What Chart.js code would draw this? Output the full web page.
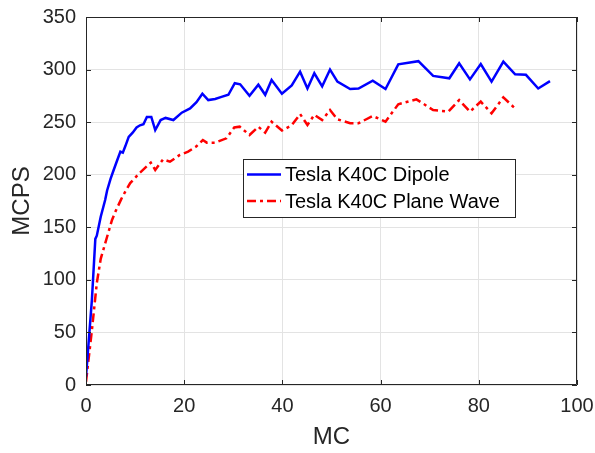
<!DOCTYPE html>
<html>
<head>
<meta charset="utf-8">
<script src="https://cdn.jsdelivr.net/npm/chart.js@4.4.1/dist/chart.umd.min.js"></script>
<style>
  html, body { margin: 0; padding: 0; background: #ffffff; }
  #wrap { width: 595px; height: 453px; }
</style>
</head>
<body>
<div id="wrap"><canvas id="c" width="595" height="453"></canvas></div>
<script>
// ---- Data ----
const dipoleMC   = [0, 1.2, 1.9, 2.2, 3.0, 3.9, 4.3, 5.0, 5.6, 6.3, 7.0, 7.5, 8.0, 8.7, 9.5, 10.3, 11.0, 11.7, 12.4, 13.3, 14.1, 15.2, 16.2, 17.8, 19.5, 21.2, 22.5, 23.7, 24.9, 26.3, 27.6, 29.0, 30.3, 31.4, 33.3, 35.1, 36.5, 37.8, 39.9, 41.9, 43.6, 45.1, 46.5, 48.1, 49.7, 51.2, 53.8, 55.5, 58.4, 61.0, 63.6, 67.7, 70.7, 74.0, 76.0, 78.2, 80.4, 82.6, 85.0, 87.4, 89.6, 92.1, 94.5];
const dipoleMCPS = [8, 81, 139, 142, 160, 176, 185, 196, 204, 213, 222, 221, 227, 236, 240, 245, 247, 248, 255, 255, 242.5, 252, 254, 252, 259, 263, 269, 277, 271, 272, 274, 276, 287, 286, 275, 285.6, 276, 290, 277, 285, 298, 282, 296.5, 284, 300, 288.5, 281.5, 282, 289.5, 281.5, 305, 308, 294, 291.7, 306, 290.7, 305.3, 288.5, 307.5, 295.5, 295, 282, 289];

const planeMC   = [0, 1.2, 2.2, 3.0, 4.3, 5.3, 6.0, 7.2, 8.0, 9.0, 11.0, 13.2, 14.1, 15.7, 17.1, 19.1, 20.8, 22.5, 23.8, 24.6, 26.3, 28.6, 30.2, 31.3, 33.3, 35.1, 36.5, 37.8, 39.9, 41.9, 43.6, 45.1, 46.5, 48.1, 49.7, 51.2, 53.8, 55.5, 58.4, 61.0, 63.6, 67.3, 70.7, 73.8, 76.0, 78.2, 80.4, 82.6, 85.0, 87.4];
const planeMCPS = [3, 52, 97, 120, 141, 157, 165, 177, 184, 192, 202, 211.5, 204.5, 214.6, 212.4, 218.8, 222, 227, 233, 230.5, 230.5, 234.6, 245, 245.7, 237.8, 245.6, 240, 250.4, 242, 247, 257.7, 247.3, 257, 252, 261.5, 252.7, 249, 249, 255.8, 250.5, 267, 271.7, 261.5, 260, 271, 260, 269.5, 258.4, 273.6, 263];

const seriesNames = ["Tesla K40C Dipole", "Tesla K40C Plane Wave"];
const xTicks = [0, 20, 40, 60, 80, 100];
const yTicks = [0, 50, 100, 150, 200, 250, 300, 350];
const xTitle = "MC";
const yTitle = "MCPS";

const toPts = (xs, ys) => xs.map((x, i) => ({ x: x, y: ys[i] }));

const FONT = "'Liberation Sans', Arial, Helvetica, sans-serif";
const AX = '#262626';

// Inner ticks + box + legend plugin
const boxPlugin = {
  id: 'boxPlugin',
  afterDatasetsDraw(chart) {
    const ctx = chart.ctx;
    const a = chart.chartArea;
    const xs = chart.scales.x, ys = chart.scales.y;
    ctx.save();
    ctx.strokeStyle = AX;
    ctx.lineWidth = 1;
    // box
    ctx.beginPath();
    ctx.rect(a.left + 0.5, a.top + 0.5, a.right - a.left - 1, a.bottom - a.top - 1);
    ctx.stroke();
    // ticks inside
    const tl = 5;
    ctx.beginPath();
    xTicks.forEach(v => {
      const px = Math.round(xs.getPixelForValue(v)) + 0.5;
      ctx.moveTo(px, a.bottom); ctx.lineTo(px, a.bottom - tl);
      ctx.moveTo(px, a.top); ctx.lineTo(px, a.top + tl);
    });
    yTicks.forEach(v => {
      const py = Math.round(ys.getPixelForValue(v)) + 0.5;
      ctx.moveTo(a.left, py); ctx.lineTo(a.left + tl, py);
      ctx.moveTo(a.right, py); ctx.lineTo(a.right - tl, py);
    });
    ctx.stroke();

    // legend box
    const lx = 243, ly = 159, lw = 272, lh = 58;
    ctx.fillStyle = '#ffffff';
    ctx.fillRect(lx, ly, lw, lh);
    ctx.strokeStyle = AX;
    ctx.strokeRect(lx + 0.5, ly + 0.5, lw, lh);
    const rows = [174.5, 201];
    chart.data.datasets.forEach((ds, i) => {
      const y = rows[i];
      ctx.beginPath();
      ctx.strokeStyle = ds.borderColor;
      ctx.lineWidth = ds.borderWidth;
      ctx.setLineDash(ds.borderDash || []);
      ctx.moveTo(247, y); ctx.lineTo(281, y);
      ctx.stroke();
      ctx.setLineDash([]);
      ctx.fillStyle = '#000000';
      ctx.font = '20px ' + FONT;
      ctx.textBaseline = 'middle';
      ctx.textAlign = 'left';
      ctx.fillText(ds.label, 285, y + 1);
    });
    ctx.restore();
  }
};

new Chart(document.getElementById('c'), {
  type: 'scatter',
  data: {
    datasets: [
      {
        label: seriesNames[0],
        data: toPts(dipoleMC, dipoleMCPS),
        showLine: true,
        borderColor: '#0000ff',
        backgroundColor: '#0000ff',
        borderWidth: 2.5,
        pointRadius: 0,
        tension: 0
      },
      {
        label: seriesNames[1],
        data: toPts(planeMC, planeMCPS),
        showLine: true,
        borderColor: '#ff0000',
        backgroundColor: '#ff0000',
        borderWidth: 2.5,
        borderDash: [9, 4, 3, 4],
        pointRadius: 0,
        tension: 0
      }
    ]
  },
  options: {
    responsive: false,
    animation: false,
    devicePixelRatio: 1,
    layout: { padding: { left: 0, top: 17, right: 18, bottom: 0 } },
    plugins: { legend: { display: false }, tooltip: { enabled: false } },
    scales: {
      x: {
        type: 'linear',
        min: 0, max: 100,
        afterBuildTicks: (s) => { s.ticks = xTicks.map(v => ({ value: v })); },
        afterFit: (s) => { s.height = 68; s.paddingLeft = 0; s.paddingRight = 0; },
        grid: { color: '#e3e3e3', lineWidth: 1, drawTicks: false },
        border: { display: false },
        ticks: { color: AX, font: { family: FONT, size: 20 }, padding: 9, maxRotation: 0 },
        title: { display: true, text: xTitle, color: AX, font: { family: FONT, size: 24 }, padding: { top: 1, bottom: 1 } }
      },
      y: {
        type: 'linear',
        min: 0, max: 350,
        afterBuildTicks: (s) => { s.ticks = yTicks.map(v => ({ value: v })); },
        afterFit: (s) => { s.width = 86; s.paddingTop = 0; s.paddingBottom = 0; },
        grid: { color: '#e3e3e3', lineWidth: 1, drawTicks: false },
        border: { display: false },
        ticks: { color: AX, font: { family: FONT, size: 20 }, padding: 10 },
        title: { display: true, text: yTitle, color: AX, font: { family: FONT, size: 24 }, padding: { top: 8, bottom: 8 } }
      }
    }
  },
  plugins: [boxPlugin]
});
</script>
</body>
</html>
